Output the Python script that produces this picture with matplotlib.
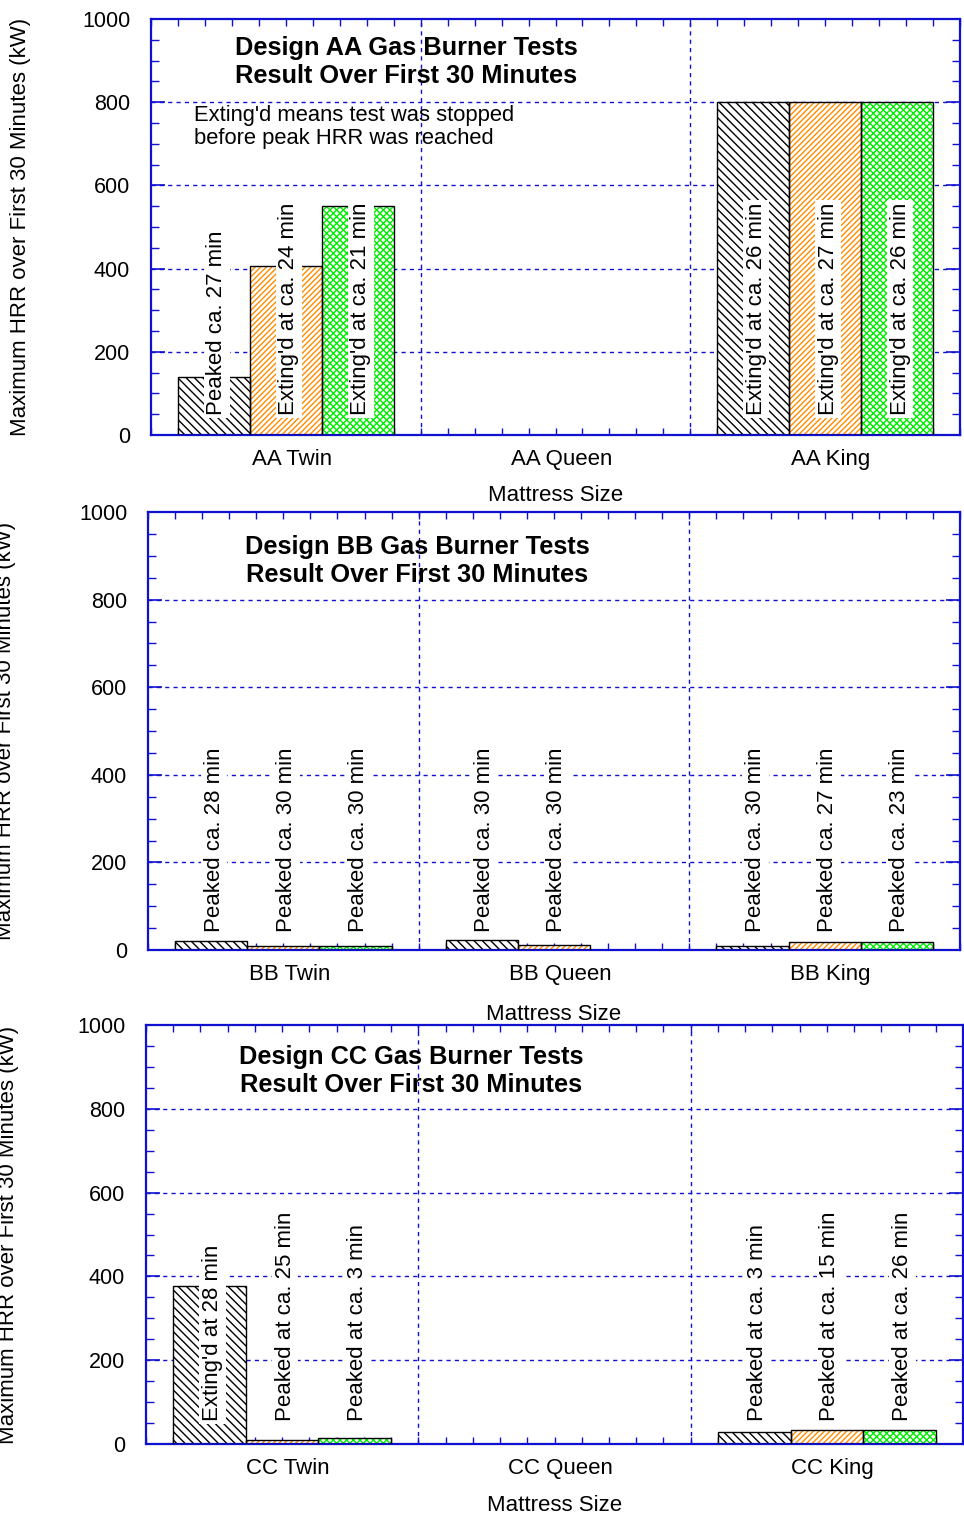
import numpy as np
import matplotlib
matplotlib.use("Agg")
import matplotlib.pyplot as plt
import matplotlib.transforms as mtransforms
from matplotlib.ticker import MultipleLocator

plt.rcParams['font.family'] = ['Liberation Sans', 'DejaVu Sans']
plt.rcParams['hatch.linewidth'] = 1.0

# peak HRR (kW) per mattress size, one list per burner test (nan = no test)
designs = ["AA", "BB", "CC"]
sizes = ["Twin", "Queen", "King"]

aa_test1 = [140, np.nan, 800]
aa_test2 = [406, np.nan, 800]
aa_test3 = [550, np.nan, 800]

bb_test1 = [20, 22, 9]
bb_test2 = [10, 12, 18]
bb_test3 = [8, np.nan, 18]

cc_test1 = [377, np.nan, 29]
cc_test2 = [9, np.nan, 34]
cc_test3 = [14, np.nan, 34]

aa_notes = [["Peaked ca. 27 min", None, "Exting'd at ca. 26 min"],
            ["Exting'd at ca. 24 min", None, "Exting'd at ca. 27 min"],
            ["Exting'd at ca. 21 min", None, "Exting'd at ca. 26 min"]]
bb_notes = [["Peaked ca. 28 min", "Peaked ca. 30 min", "Peaked ca. 30 min"],
            ["Peaked ca. 30 min", "Peaked ca. 30 min", "Peaked ca. 27 min"],
            ["Peaked ca. 30 min", None, "Peaked ca. 23 min"]]
cc_notes = [["Exting'd at 28 min", None, "Peaked at ca. 3 min"],
            ["Peaked at ca. 25 min", None, "Peaked at ca. 15 min"],
            ["Peaked at ca. 3 min", None, "Peaked at ca. 26 min"]]

panel_data = [[aa_test1, aa_test2, aa_test3],
              [bb_test1, bb_test2, bb_test3],
              [cc_test1, cc_test2, cc_test3]]
panel_notes = [aa_notes, bb_notes, cc_notes]
note_base = [48, 40, 55]

hatch_colors = ["black", "#ff8c00", "#00ee00"]
hatches = ["\\\\\\\\", "//////", "xxxxx"]

W, H = 964, 1522
fig = plt.figure(figsize=(W / 100, H / 100), dpi=100)

# axes boxes in pixels: left, top, right, bottom
boxes = [(151, 19, 960, 435), (148, 512, 960, 950), (146, 1025, 963, 1444)]
ylab_right = [31, 16, 19]
title_pos = [(406, 62), (417, 561), (411, 1071)]
xlab_y = [495, 1014, 1505]

blue = "#1010d0"
width = 0.8 / 3
x = np.arange(len(sizes))
note_nudge = mtransforms.ScaledTranslation(0.03, 0, fig.dpi_scale_trans)

for p, (l, t, r, b) in enumerate(boxes):
    ax = fig.add_axes([l / W, 1 - b / H, (r - l) / W, (b - t) / H])
    ax.set_xlim(-0.5, 2.5)
    ax.set_ylim(0, 1000)

    for k in range(3):
        vals = np.array(panel_data[p][k], dtype=float)
        xs = x + (k - 1) * width
        ax.bar(xs, vals, width, color="white", edgecolor=hatch_colors[k],
               hatch=hatches[k], linewidth=0, zorder=2)
        ax.bar(xs, vals, width, fill=False, edgecolor="black",
               linewidth=1.0, zorder=3)
        for i in range(3):
            note = panel_notes[p][k][i]
            if note is None:
                continue
            ax.text(xs[i], note_base[p], note, rotation=90, ha="center",
                    va="bottom", fontsize=16, zorder=4,
                    transform=ax.transData + note_nudge,
                    bbox=dict(facecolor="white", edgecolor="none", pad=2))

    # grid
    for yv in [200, 400, 600, 800]:
        ax.axhline(yv, color=blue, lw=1, ls=(0, (3, 3)), zorder=1)
    for xv in [0.5, 1.5]:
        ax.axvline(xv, color=blue, lw=1, ls=(0, (3, 3)), zorder=1)

    for s in ax.spines.values():
        s.set_color(blue)
        s.set_linewidth(1.6)

    # category labels sit a little right of the group centre
    ax.set_xticks(x + 0.022)
    ax.set_xticklabels([designs[p] + " " + s for s in sizes], fontsize=16)
    ax.xaxis.set_minor_locator(MultipleLocator(0.1))
    ax.yaxis.set_major_locator(MultipleLocator(200))
    ax.yaxis.set_minor_locator(MultipleLocator(50))
    ax.tick_params(axis="both", which="both", direction="in", color=blue,
                   top=True, right=True)
    ax.tick_params(axis="y", which="major", length=10, width=1.2, pad=15,
                   labelsize=15.5)
    ax.tick_params(axis="y", which="minor", length=6, width=1.0)
    ax.tick_params(axis="x", which="major", length=0, pad=10)
    ax.tick_params(axis="x", which="minor", length=5, width=1.0)

    ax.set_ylabel("Maximum HRR over First 30 Minutes (kW)", fontsize=16)
    ax.yaxis.set_label_coords((ylab_right[p] - l) / (r - l), 0.5)
    ax.set_xlabel("Mattress Size", fontsize=16)
    ax.xaxis.set_label_coords(0.5, -(xlab_y[p] - 10 - b) / (b - t))

    tx, ty = title_pos[p]
    ax.text((tx - l) / (r - l), 1 - (ty - t) / (b - t),
            "Design " + designs[p] + " Gas Burner Tests\nResult Over First 30 Minutes",
            transform=ax.transAxes, ha="center", va="center", fontsize=18.3,
            fontweight="bold", linespacing=1.25, zorder=5)

    if p == 0:
        ax.text((194 - l) / (r - l), 1 - (127 - t) / (b - t),
                "Exting'd means test was stopped\nbefore peak HRR was reached",
                transform=ax.transAxes, ha="left", va="center", fontsize=15.8,
                linespacing=1.1, zorder=5)

fig.savefig("out.png", dpi=100)
